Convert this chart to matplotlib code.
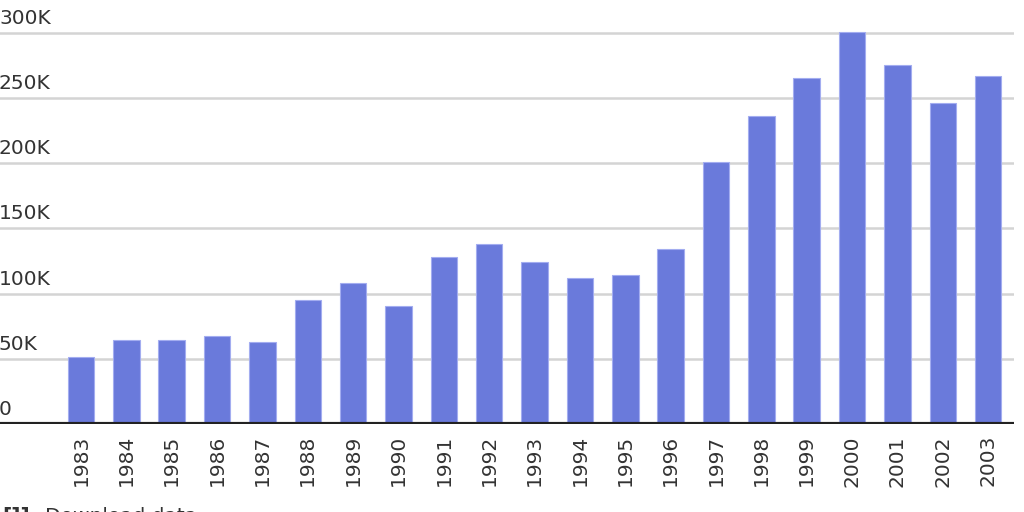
import matplotlib.pyplot as plt
from matplotlib.transforms import offset_copy

# values
years = [str(y) for y in range(1983, 2004)]
values = [51200, 64600, 64600, 67300, 63000, 95000, 108000, 90600, 128200, 138200,
          123800, 112100, 113900, 133800, 201000, 236000, 265000, 300800, 275000,
          245800, 266500]
y_ticks = [0, 50000, 100000, 150000, 200000, 250000, 300000]
y_tick_labels = ['0', '50K', '100K', '150K', '200K', '250K', '300K']

bar_color = '#6a7adb'
text_color = '#333333'

fig = plt.figure(figsize=(10.24, 5.12), dpi=100)
ax = fig.add_axes([0, 88 / 512, 1014 / 1024, 424 / 512])

x = range(len(years))
ax.bar(x, values, width=0.585, color=bar_color, edgecolor='#a3adf0', linewidth=0.8, zorder=3)

ax.set_xlim(-1.786, 20.57)
ax.set_ylim(0, 325000)

# gridlines
for v in y_ticks[1:]:
    ax.axhline(v, color='#d4d4d4', linewidth=1.8, zorder=1)
ax.axhline(0, color='#222222', linewidth=3, zorder=4)

# y labels sit above their gridlines, flush left
for v, lab in zip(y_ticks, y_tick_labels):
    trans = offset_copy(ax.get_yaxis_transform(), fig=fig, x=-1, y=9, units='dots')
    ax.text(0, v, lab, transform=trans, ha='left', va='baseline',
            fontsize=14.5, color=text_color)

ax.set_yticks([])
ax.set_xticks(list(x))
ax.set_xticklabels(years, rotation=90, fontsize=14.5, color=text_color)
ax.tick_params(axis='x', length=0, pad=8)
for s in ax.spines.values():
    s.set_visible(False)

fig.text(45 / 1024, 1 - 507 / 512, 'Download data', ha='left', va='top',
         fontsize=14.5, color=text_color)
fig.text(2 / 1024, 1 - 507 / 512, '[]]', ha='left', va='top',
         fontsize=14.5, color=text_color, fontweight='bold')

fig.savefig('out.png', dpi=100)
